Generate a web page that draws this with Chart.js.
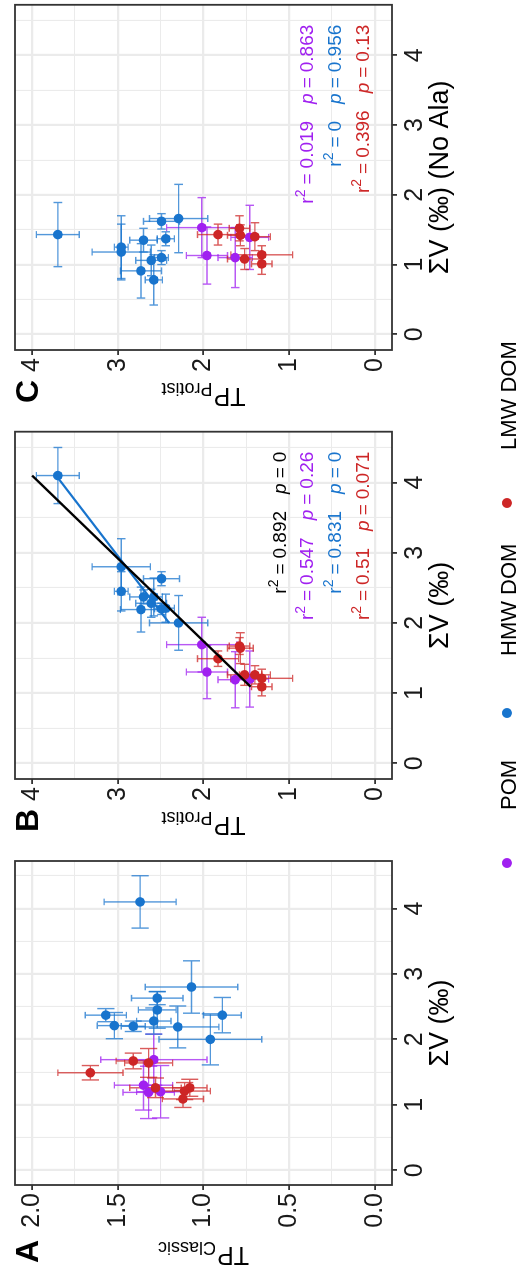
<!DOCTYPE html>
<html>
<head>
<meta charset="utf-8">
<title>ΣV vs trophic position</title>
<script src="https://cdn.jsdelivr.net/npm/chart.js@4.4.1/dist/chart.umd.min.js"></script>
<style>
  html, body { margin: 0; padding: 0; background: #fff; }
  body { width: 519px; height: 1276px; overflow: hidden; position: relative; }
  /* the three panels are laid out side by side, then the whole figure is turned a quarter turn */
  #figure {
    position: absolute; left: 0; top: 0; width: 1276px; height: 519px;
    transform-origin: 0 0; transform: translate(0, 1276px) rotate(-90deg);
    font-family: "Liberation Sans", Arial, Helvetica, sans-serif;
  }
  .panel { position: absolute; top: 0; }
  .tag { position: absolute; top: 11px; font-size: 32px; line-height: 32px; font-weight: bold; color: #000; }
  .key { position: absolute; top: 502px; width: 10px; height: 10px; border-radius: 50%; }
  .key-label { position: absolute; top: 498px; font-size: 22px; line-height: 22px; color: #000; white-space: nowrap; }
</style>
</head>
<body>
<div id="figure">
  <canvas id="panel-a" class="panel" width="425" height="519" style="left:0"></canvas>
  <canvas id="panel-b" class="panel" width="425" height="519" style="left:425px"></canvas>
  <canvas id="panel-c" class="panel" width="426" height="519" style="left:850px"></canvas>
  <div class="tag" style="left:13px">A</div>
  <div class="tag" style="left:444px">B</div>
  <div class="tag" style="left:873px">C</div>
</div>
<script>
const FONT = '"Liberation Sans", Arial, Helvetica, sans-serif';

const groupNames = ['POM', 'HMW DOM', 'LMW DOM'];
const groupColors = ['#A020F0', '#1874CD', '#CD2626'];
const errorColors = ['rgba(160,32,240,0.75)', 'rgba(24,116,205,0.75)', 'rgba(205,38,38,0.75)'];

// POM
const pomSumV = [1.69, 1.30, 1.19, 1.20];
const pomSumVErr = [0.39, 0.38, 0.40, 0.40];
const pomSumVNoAla = [1.53, 1.13, 1.10, 1.39];
const pomSumVNoAlaErr = [0.43, 0.41, 0.43, 0.46];
const pomTpClassic = [1.29, 1.35, 1.32, 1.25];
const pomTpClassicErr = [0.31, 0.17, 0.15, 0.14];
const pomTpProtist = [2.02, 1.96, 1.63, 1.46];
const pomTpProtistErr = [0.41, 0.24, 0.20, 0.22];

// HMW DOM
const hmwSumV = [4.10, 2.80, 2.45, 2.63, 2.20, 2.37, 2.37, 2.19, 2.28, 2.21, 2.00];
const hmwSumVErr = [0.40, 0.40, 0.28, 0.10, 0.08, 0.10, 0.27, 0.32, 0.20, 0.20, 0.39];
const hmwSumVNoAla = [1.43, 1.18, 1.25, 1.62, 1.10, 1.35, 0.78, 0.91, 1.06, 1.37, 1.66];
const hmwSumVNoAlaErr = [0.46, 0.40, 0.45, 0.11, 0.10, 0.17, 0.36, 0.39, 0.22, 0.10, 0.49];
const hmwTpClassic = [1.37, 1.07, 1.27, 1.27, 1.41, 1.57, 0.89, 1.15, 1.29, 1.52, 0.96];
const hmwTpClassicErr = [0.21, 0.27, 0.11, 0.15, 0.07, 0.12, 0.11, 0.24, 0.10, 0.10, 0.30];
const hmwTpProtist = [3.70, 2.96, 2.96, 2.49, 2.49, 2.70, 2.58, 2.73, 2.61, 2.44, 2.29];
const hmwTpProtistErr = [0.25, 0.34, 0.08, 0.21, 0.08, 0.16, 0.10, 0.24, 0.18, 0.10, 0.34];

// LMW DOM
const lmwSumV = [1.49, 1.67, 1.64, 1.26, 1.26, 1.21, 1.09];
const lmwSumVErr = [0.11, 0.12, 0.22, 0.15, 0.13, 0.13, 0.13];
const lmwSumVNoAla = [1.43, 1.52, 1.42, 1.08, 1.40, 1.14, 1.01];
const lmwSumVNoAlaErr = [0.15, 0.18, 0.15, 0.15, 0.20, 0.13, 0.15];
const lmwTpClassic = [1.66, 1.41, 1.32, 1.28, 1.08, 1.11, 1.12];
const lmwTpClassicErr = [0.19, 0.10, 0.14, 0.15, 0.10, 0.15, 0.12];
const lmwTpProtist = [1.83, 1.58, 1.57, 1.52, 1.40, 1.32, 1.32];
const lmwTpProtistErr = [0.24, 0.12, 0.15, 0.20, 0.18, 0.36, 0.12];

// regression lines in panel B (all samples, HMW DOM only)
const allFitSumV = [1.09, 4.10];
const allFitTp = [1.45, 4.00];
const hmwFitSumV = [2.00, 4.10];
const hmwFitTp = [2.40, 3.72];

// r² / p labels
const statsBR2 = ['0.892', '0.547', '0.831', '0.51'];
const statsBP = ['0', '0.26', '0', '0.071'];
const statsBColors = ['#000000', groupColors[0], groupColors[1], groupColors[2]];
const statsCR2 = ['0.019', '0', '0.396'];
const statsCP = ['0.863', '0.956', '0.13'];
const statsCColors = [groupColors[0], groupColors[1], groupColors[2]];

// axes
const sumVRange = [-0.225, 4.725];
const sumVTicks = [0, 1, 2, 3, 4];
const sumVLabels = ['0', '1', '2', '3', '4'];
const tpClassicRange = [-0.1, 2.1];
const tpClassicTicks = [0, 0.5, 1, 1.5, 2];
const tpClassicLabels = ['0.0', '0.5', '1.0', '1.5', '2.0'];
const tpProtistRange = [-0.2, 4.2];
const tpProtistTicks = [0, 1, 2, 3, 4];
const tpProtistLabels = ['0', '1', '2', '3', '4'];

const CAP = 0.05;        // half width of error bar caps, in data units
const STAT_X = 4.44;     // right edge of the r² / p labels
const statRowsB = [1.04, 0.72, 0.395, 0.07];
const statRowsC = [0.72, 0.395, 0.07];

function minorTicks(major, min, max) {
  const step = major[1] - major[0];
  const out = [major[0] - step / 2];
  major.forEach(v => out.push(v + step / 2));
  return out.filter(v => v > min && v < max);
}

function linearAxis(range, ticks, labels, afterFit) {
  const minor = minorTicks(ticks, range[0], range[1]);
  return {
    type: 'linear',
    min: range[0],
    max: range[1],
    bounds: 'data',
    afterBuildTicks: scale => {
      scale.ticks = ticks.map(v => ({ value: v }))
        .concat(minor.map(v => ({ value: v, minor: true })))
        .sort((a, b) => a.value - b.value);
    },
    ticks: {
      autoSkip: false,
      maxRotation: 0,
      minRotation: 0,
      padding: 3,
      color: '#1a1a1a',
      font: { family: FONT, size: 25 },
      callback: (value, i, all) => (all[i].minor ? '' : labels[ticks.indexOf(value)])
    },
    grid: {
      color: '#EBEBEB',
      lineWidth: c => (c.tick && c.tick.minor ? 1.1 : 2.2),
      tickLength: 5,
      tickWidth: 1.8,
      tickColor: c => (c.tick && c.tick.minor ? 'rgba(0,0,0,0)' : '#333333')
    },
    border: { display: false },
    afterFit
  };
}

function drawStatLine(ctx, r2, p, color, right, base) {
  const reg = `19px ${FONT}`;
  const parts = [
    { t: 'r', f: reg },
    { t: '2', f: `14px ${FONT}`, dy: -8 },
    { gap: 5 },
    { t: '=', f: reg },
    { gap: 5 },
    { t: r2, f: reg },
    { gap: 17 },
    { t: 'p', f: `italic 19px ${FONT}` },
    { gap: 5 },
    { t: '=', f: reg },
    { gap: 5 },
    { t: p, f: reg }
  ];
  let total = 0;
  parts.forEach(part => {
    if (part.gap) { part.w = part.gap; } else { ctx.font = part.f; part.w = ctx.measureText(part.t).width; }
    total += part.w;
  });
  let x = right - total;
  ctx.fillStyle = color;
  ctx.textAlign = 'left';
  ctx.textBaseline = 'alphabetic';
  parts.forEach(part => {
    if (!part.gap) {
      ctx.font = part.f;
      ctx.fillText(part.t, x, base + (part.dy || 0));
    }
    x += part.w;
  });
}

function makePanel(canvasId, opt) {
  const datasets = [];
  opt.fits.forEach(f => datasets.push({
    type: 'line',
    data: f.x.map((v, i) => ({ x: v, y: f.y[i] })),
    borderColor: f.color,
    borderWidth: 2.2,
    pointRadius: 0,
    fill: false,
    order: 0
  }));
  opt.series.forEach((s, g) => datasets.push({
    type: 'scatter',
    label: groupNames[g],
    data: s.x.map((v, i) => ({ x: v, y: s.y[i] })),
    backgroundColor: groupColors[g],
    borderWidth: 0,
    pointRadius: 4.8,
    order: 10 - g
  }));

  const errorBars = {
    id: 'errorBars',
    beforeDatasetsDraw(chart) {
      const { ctx, scales: { x, y } } = chart;
      const capX = Math.abs(x.getPixelForValue(CAP) - x.getPixelForValue(0));
      const capY = Math.abs(y.getPixelForValue(CAP) - y.getPixelForValue(0));
      ctx.save();
      ctx.lineWidth = 1.4;
      opt.series.forEach((s, g) => {
        ctx.strokeStyle = errorColors[g];
        s.x.forEach((xv, i) => {
          const yv = s.y[i];
          const px = x.getPixelForValue(xv);
          const py = y.getPixelForValue(yv);
          const x0 = x.getPixelForValue(xv - s.xErr[i]);
          const x1 = x.getPixelForValue(xv + s.xErr[i]);
          const y0 = y.getPixelForValue(yv - s.yErr[i]);
          const y1 = y.getPixelForValue(yv + s.yErr[i]);
          ctx.beginPath();
          ctx.moveTo(x0, py); ctx.lineTo(x1, py);
          ctx.moveTo(x0, py - capY); ctx.lineTo(x0, py + capY);
          ctx.moveTo(x1, py - capY); ctx.lineTo(x1, py + capY);
          ctx.moveTo(px, y0); ctx.lineTo(px, y1);
          ctx.moveTo(px - capX, y0); ctx.lineTo(px + capX, y0);
          ctx.moveTo(px - capX, y1); ctx.lineTo(px + capX, y1);
          ctx.stroke();
        });
      });
      ctx.restore();
    }
  };

  const frame = {
    id: 'frame',
    afterDatasetsDraw(chart) {
      const { ctx, chartArea: a } = chart;
      ctx.save();
      ctx.strokeStyle = '#333333';
      ctx.lineWidth = 1.8;
      ctx.strokeRect(a.left, a.top, a.right - a.left, a.bottom - a.top);
      ctx.restore();
    }
  };

  const stats = {
    id: 'stats',
    afterDatasetsDraw(chart) {
      const { ctx, scales: { x, y } } = chart;
      const right = x.getPixelForValue(STAT_X);
      ctx.save();
      opt.stats.r2.forEach((r2, i) => {
        drawStatLine(ctx, r2, opt.stats.p[i], opt.stats.colors[i], right, y.getPixelForValue(opt.stats.rows[i]));
      });
      ctx.restore();
    }
  };

  // y title with a subscript, reading bottom to top
  const yTitle = {
    id: 'yTitle',
    afterDraw(chart) {
      const { ctx, chartArea: a } = chart;
      ctx.save();
      ctx.translate(opt.yTitleX, (a.top + a.bottom) / 2);
      ctx.rotate(-Math.PI / 2);
      ctx.fillStyle = '#000';
      ctx.textBaseline = 'alphabetic';
      ctx.textAlign = 'left';
      ctx.font = `25px ${FONT}`;
      const w1 = ctx.measureText(opt.yTitle[0]).width;
      ctx.font = `18px ${FONT}`;
      const w2 = ctx.measureText(opt.yTitle[1]).width;
      const x = -(w1 + w2 + 1) / 2;
      ctx.font = `25px ${FONT}`;
      ctx.fillText(opt.yTitle[0], x, 0);
      ctx.font = `18px ${FONT}`;
      ctx.fillText(opt.yTitle[1], x + w1 + 1, 5);
      ctx.restore();
    }
  };

  const xAxis = linearAxis(sumVRange, sumVTicks, sumVLabels, s => {
    s.height = 65; s.paddingLeft = 0; s.paddingRight = 0;
  });
  xAxis.title = { display: true, text: opt.xTitle, color: '#000', font: { family: FONT, size: 27 }, padding: 0 };
  const yAxis = linearAxis(opt.yRange, opt.yTicks, opt.yLabels, s => {
    s.width = opt.yAxisWidth; s.paddingTop = 0; s.paddingBottom = 0;
  });

  return new Chart(document.getElementById(canvasId), {
    type: 'scatter',
    data: { datasets },
    options: {
      responsive: false,
      animation: false,
      events: [],
      layout: { padding: { top: 15, right: opt.padRight, bottom: 62, left: 0 } },
      plugins: { legend: { display: false }, tooltip: { enabled: false } },
      scales: { x: xAxis, y: yAxis }
    },
    plugins: [errorBars, frame, stats, yTitle]
  });
}

makePanel('panel-a', {
  xTitle: 'ΣV (‰)',
  yTitle: ['TP', 'Classic'],
  yRange: tpClassicRange, yTicks: tpClassicTicks, yLabels: tpClassicLabels,
  yAxisWidth: 91, yTitleX: 29, padRight: 10,
  series: [
    { x: pomSumV, xErr: pomSumVErr, y: pomTpClassic, yErr: pomTpClassicErr },
    { x: hmwSumV, xErr: hmwSumVErr, y: hmwTpClassic, yErr: hmwTpClassicErr },
    { x: lmwSumV, xErr: lmwSumVErr, y: lmwTpClassic, yErr: lmwTpClassicErr }
  ],
  fits: [],
  stats: { r2: [], p: [], colors: [], rows: [] }
});

makePanel('panel-b', {
  xTitle: 'ΣV (‰)',
  yTitle: ['TP', 'Protist'],
  yRange: tpProtistRange, yTicks: tpProtistTicks, yLabels: tpProtistLabels,
  yAxisWidth: 72, yTitleX: 34, padRight: 5.7,
  series: [
    { x: pomSumV, xErr: pomSumVErr, y: pomTpProtist, yErr: pomTpProtistErr },
    { x: hmwSumV, xErr: hmwSumVErr, y: hmwTpProtist, yErr: hmwTpProtistErr },
    { x: lmwSumV, xErr: lmwSumVErr, y: lmwTpProtist, yErr: lmwTpProtistErr }
  ],
  fits: [
    { x: allFitSumV, y: allFitTp, color: '#000000' },
    { x: hmwFitSumV, y: hmwFitTp, color: groupColors[1] }
  ],
  stats: { r2: statsBR2, p: statsBP, colors: statsBColors, rows: statRowsB }
});

makePanel('panel-c', {
  xTitle: 'ΣV (‰) (No Ala)',
  yTitle: ['TP', 'Protist'],
  yRange: tpProtistRange, yTicks: tpProtistTicks, yLabels: tpProtistLabels,
  yAxisWidth: 76, yTitleX: 38, padRight: 3.3,
  series: [
    { x: pomSumVNoAla, xErr: pomSumVNoAlaErr, y: pomTpProtist, yErr: pomTpProtistErr },
    { x: hmwSumVNoAla, xErr: hmwSumVNoAlaErr, y: hmwTpProtist, yErr: hmwTpProtistErr },
    { x: lmwSumVNoAla, xErr: lmwSumVNoAlaErr, y: lmwTpProtist, yErr: lmwTpProtistErr }
  ],
  fits: [],
  stats: { r2: statsCR2, p: statsCP, colors: statsCColors, rows: statRowsC }
});

// shared legend along the bottom of the figure
const legendKeyX = [408, 558, 768];
const legendTextX = [466, 620, 826];
const figure = document.getElementById('figure');
groupNames.forEach((name, g) => {
  const key = document.createElement('div');
  key.className = 'key';
  key.style.left = legendKeyX[g] + 'px';
  key.style.background = groupColors[g];
  figure.appendChild(key);
  const label = document.createElement('div');
  label.className = 'key-label';
  label.style.left = legendTextX[g] + 'px';
  label.textContent = name;
  figure.appendChild(label);
});
</script>
</body>
</html>
